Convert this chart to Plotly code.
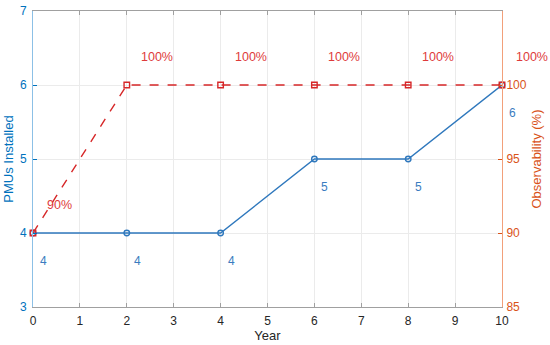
import plotly.graph_objects as go

years = [0, 2, 4, 6, 8, 10]
pmus = [4, 4, 4, 5, 5, 6]
observability = [90, 100, 100, 100, 100, 100]
pmu_labels = ["4", "4", "4", "5", "5", "6"]
obs_labels = ["90%", "100%", "100%", "100%", "100%", "100%"]

BLUE = "#0072BD"
ORANGE = "#D95319"
RED = "#D62728"
FONT = "Liberation Sans, Arial, sans-serif"

fig = go.Figure()
fig.add_trace(go.Scatter(
    x=years, y=pmus, mode="lines+markers",
    line=dict(color="#2F78BD", width=1.4),
    marker=dict(symbol="circle-open", size=5.5, color="#2F78BD", line=dict(width=1.4)),
    yaxis="y", showlegend=False, cliponaxis=False))
fig.add_trace(go.Scatter(
    x=years, y=observability, mode="lines+markers",
    line=dict(color=RED, width=1.4, dash="dash"),
    marker=dict(symbol="square-open", size=5.5, color=RED, line=dict(width=1.4)),
    yaxis="y2", showlegend=False, cliponaxis=False))

for x, y, t in zip(years, pmus, pmu_labels):
    fig.add_annotation(x=x, y=y, yref="y", text=t, showarrow=False,
                       xanchor="left", yanchor="middle", xshift=5, yshift=-28,
                       font=dict(family=FONT, size=12, color="#3A7CC0"))
for x, y, t in zip(years, observability, obs_labels):
    fig.add_annotation(x=x, y=y, yref="y2", text=t, showarrow=False,
                       xanchor="left", yanchor="middle", xshift=12, yshift=28,
                       font=dict(family=FONT, size=12.5, color="#DE3B3B"))

fig.update_layout(
    width=550, height=345,
    margin=dict(l=33, r=48, t=11, b=38),
    paper_bgcolor="white", plot_bgcolor="white",
    font=dict(family=FONT, size=12, color="#262626"),
    xaxis=dict(range=[0, 10], tickvals=list(range(11)), showgrid=True,
               gridcolor="#EBEBEB", gridwidth=1, zeroline=False, automargin=False,
               showline=True, linecolor="#A0A0A0", linewidth=1, mirror="ticks",
               ticks="inside", ticklen=4, tickcolor="#A0A0A0", ticklabelstandoff=3,
               tickfont=dict(size=12, color="#262626"),
               title=dict(text="Year", font=dict(size=13, color="#262626"), standoff=1)),
    yaxis=dict(range=[3, 7], tickvals=[3, 4, 5, 6, 7], showgrid=True,
               gridcolor="#EBEBEB", zeroline=False, automargin=False,
               showline=True, linecolor="#8CC0E6", linewidth=1,
               ticks="inside", ticklen=4, tickcolor=BLUE, ticklabelstandoff=3,
               tickfont=dict(size=12, color=BLUE),
               title=dict(text="PMUs Installed", font=dict(size=13, color=BLUE), standoff=3)),
    yaxis2=dict(range=[85, 105], tickvals=[85, 90, 95, 100], overlaying="y",
                side="right", showgrid=False, zeroline=False, automargin=False,
                showline=True, linecolor="#F2A07A", linewidth=1,
                ticks="inside", ticklen=4, tickcolor=ORANGE, ticklabelstandoff=1,
                tickfont=dict(size=12, color=ORANGE),
                title=dict(text="Observability (%)", font=dict(size=13, color=ORANGE), standoff=6)),
)

fig.write_html("out.html", config={"displayModeBar": False},
               post_script="document.body.style.margin='0px';document.body.style.overflow='hidden';")
